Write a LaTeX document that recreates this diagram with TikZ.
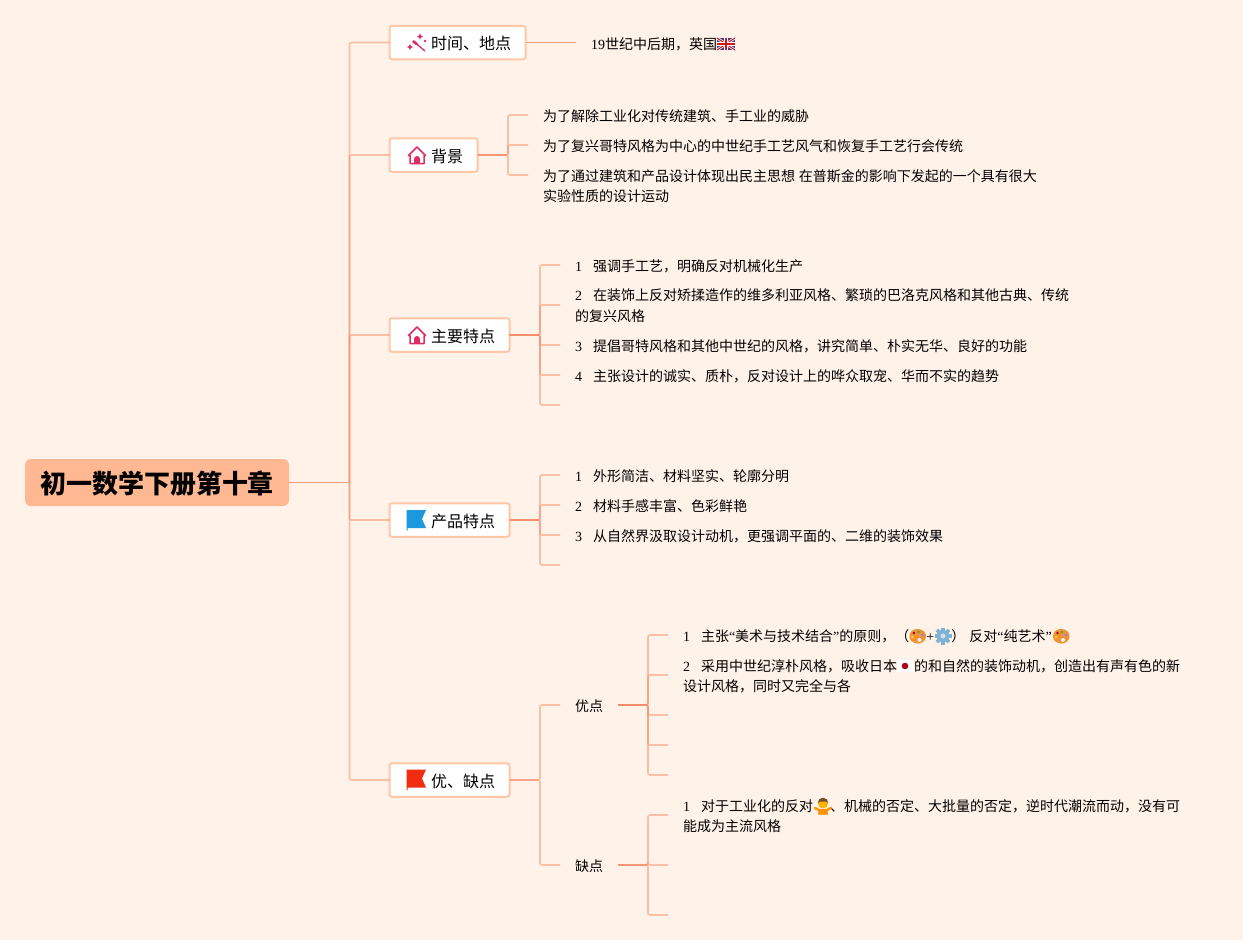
\documentclass[tikz,border=0pt]{standalone}
\usepackage{fontspec}
\setmainfont{Liberation Serif}
\newfontfamily\cjk{Noto Sans CJK SC}
\usepackage{xcolor}
\definecolor{pagebg}{HTML}{FFF2E8}
\definecolor{rootfill}{HTML}{FFB892}
\definecolor{topicline}{HTML}{FFC7A6}
\definecolor{linkcol}{HTML}{F88B68}
\definecolor{iconred}{HTML}{DE2C62}
\definecolor{gearblue}{HTML}{7FB2D2}
\definecolor{flagblue}{HTML}{1C98DD}
\definecolor{flagred}{HTML}{F22C10}
\tikzset{%
	root/.style    = {fill=rootfill, rounded corners=6pt, anchor=west, minimum height=47pt, outer sep=0pt, inner xsep=15pt, text height=24pt, text depth=2pt, font=\cjk\fontsize{26}{30}\bfseries\selectfont},
	topic/.style   = {draw=topicline, fill=white, line width=2pt, rounded corners=2.5pt, anchor=west, minimum height=33.5pt, outer sep=0pt, inner xsep=14.5pt, text height=15.5pt, text depth=1pt, font=\cjk\fontsize{16}{20}\selectfont},
	leaf/.style    = {anchor=west, inner xsep=15pt, inner ysep=0pt, outer sep=0pt, align=left, font=\cjk\fontsize{14}{20.5}\selectfont},
	oneline/.style = {leaf, text height=14pt, text depth=1pt},
	branch/.style  = {draw=linkcol, line width=1.6pt, opacity=.5, rounded corners=2pt},
	rootlink/.style= {draw=linkcol, line width=1pt, opacity=.85},
	iconwand/.pic = {
		\draw[iconred,line width=1.3pt] (-4,-2) -- (8,8);
		\draw[iconred,line width=2.6pt] (-4,-2) -- (0,1.3);
		\fill[iconred] (3,-9.5) -- (4,-7.5) -- (6,-6.5) -- (4,-5.5) -- (3,-3.5) -- (2,-5.5) -- (0,-6.5) -- (2,-7.5) -- cycle;
		\fill[iconred] (-7,1) -- (-6,3) -- (-4,4) -- (-6,5) -- (-7,7) -- (-8,5) -- (-10,4) -- (-8,3) -- cycle;
		\fill[iconred] (8,-2) circle (1.3pt);
	},
	iconhouse/.pic = {
		\draw[iconred,line width=1.5pt,line join=round,fill=white] (-8.5,0) -- (0,-8.5) -- (8.5,0) -- (7,0) -- (7,8) -- (-7,8) -- (-7,0) -- cycle;
		\fill[iconred] (-3,8) -- (-3,3.5) arc[start angle=180,end angle=0,radius=3pt] -- (3,8) -- cycle;
		\draw[iconred,line width=1.9pt] (-7,8) -- (7,8);
	},
	iconflag/.pic = {
		\fill[#1] (-10,-9.5) -- (9,-9.5) -- (5,-0.5) -- (9,8.5) -- (-9.5,8.5) -- (-9.5,11) -- (-10.3,11) -- (-10.3,-9.5) -- cycle;
	},
	iconpalette/.pic = {
		\fill[orange!70!brown!85!white] (0,-7) .. controls (6,-7) and (9,-3) .. (8.5,1) .. controls (8,5) and (4,8) .. (0,7.5) .. controls (-5,7) and (-8.5,4) .. (-8,0) .. controls (-8,-4) and (-5,-7) .. (0,-7) -- cycle;
		\fill[red!70!black] (-3.5,-3) circle (1.4pt);
		\fill[green!50!black!70] (1,-4) circle (1.4pt);
		\fill[blue!50] (5,-1) circle (1.4pt);
		\fill[yellow!80!orange] (-5,1) circle (1.4pt);
		\fill[pagebg] (2,4) circle (2pt);
	},
	icongear/.pic = {
		\foreach \a in {0,45,...,315} \fill[gearblue,rotate=\a] (-1.8,-8.5) rectangle (1.8,-4);
		\fill[gearblue] (0,0) circle (6.2pt);
		\fill[white!60!gearblue] (0,0) circle (2.5pt);
	},
	iconperson/.pic = {
		\fill[orange!90!yellow] (-5,8.5) -- (-4,3) -- (4,3) -- (5,8.5) -- cycle;
		\draw[orange!85!yellow,line width=2.4pt,line cap=round] (-8,2) -- (3,7.5) (8,2) -- (-3,7.5);
		\fill[orange!60!yellow] (0,-2.5) circle (5pt);
		\fill[brown!60!black] (-5.3,-3) arc[start angle=180,end angle=0,radius=5.3pt] -- (3,-4.5) -- (-3,-4.5) -- cycle;
	},
	iconuk/.pic = {
		\fill[blue!45!black!75] (-9,-6) rectangle (9,6);
		\draw[white,line width=2.6pt] (-9,-6) -- (9,6) (-9,6) -- (9,-6);
		\draw[red!75!black!90,line width=1pt] (-9,-6) -- (9,6) (-9,6) -- (9,-6);
		\draw[white,line width=4pt] (-9,0) -- (9,0) (0,-6) -- (0,6);
		\draw[red!80!black!90,line width=2.2pt] (-9,0) -- (9,0) (0,-6) -- (0,6);
	},
	iconjapan/.pic = {
		\fill[white] (-8,-6) rectangle (8,6);
		\fill[red!75!black!90!blue] (0,0) circle (3.3pt);
	},
}
\newcommand{\lat}[1]{{\rmfamily #1}}
\newcommand{\itemno}[1]{\lat{#1}\hspace{11pt}}
\newcommand{\emogap}{\hspace{17pt}}

\begin{document}
\begin{tikzpicture}[x=1pt,y=-1pt]
	\fill[pagebg] (0,0) rectangle (1243,940);
	
	% root and main topics
	\node[root] (root) at (25,482.5) {初一数学下册第十章};
	\node[topic] (place) at (389.5,42.5) {\hspace{27pt}时间、地点};
	\node[topic] (back) at (389.5,155) {\hspace{27pt}背景};
	\node[topic] (main) at (389.5,335) {\hspace{27pt}主要特点};
	\node[topic] (prod) at (389.5,520) {\hspace{27pt}产品特点};
	\node[topic] (good) at (389.5,780) {\hspace{27pt}优、缺点};
	
	\coordinate (trunk) at (349.5,482.5);
	\draw[rootlink] (root.east) -- (trunk);
	\foreach \t in {place,back,main,prod,good} \draw[branch] (trunk) |- (\t.west);
	
	% time and place
	\node[leaf,text height=15.5pt,text depth=1pt] (placea) at (576,42.5) {\lat{19}世纪中后期，英国\emogap};
	\draw[rootlink] (place.east) -- (placea.west);
	
	% background
	\coordinate (backj) at (508,155);
	\foreach \n/\y/\t in {backa/115/{为了解除工业化对传统建筑、手工业的威胁},backb/145/{为了复兴哥特风格为中心的中世纪手工艺风气和恢复手工艺行会传统}}
		\node[oneline] (\n) at (528,\y) {\t};
	\node[leaf,anchor=north west] (backc) at (528,169.5) {为了通过建筑和产品设计体现出民主思想\hspace{4pt}在普斯金的影响下发起的一个具有很大\\实验性质的设计运动};
	\coordinate (backce) at (528,175);
	\foreach \n in {backa.west,backb.west,backce} \draw[branch] (back.east) -- (backj) |- (\n);
	
	% main features
	\coordinate (mainj) at (540,335);
	\foreach \n/\y/\t in {maina/265/{\itemno{1}强调手工艺，明确反对机械化生产},mainc/345/{\itemno{3}提倡哥特风格和其他中世纪的风格，讲究简单、朴实无华、良好的功能},maind/375/{\itemno{4}主张设计的诚实、质朴，反对设计上的哗众取宠、华而不实的趋势}}
		\node[oneline] (\n) at (560,\y) {\t};
	\node[leaf,anchor=north west] (mainb) at (560,289) {\itemno{2}在装饰上反对矫揉造作的维多利亚风格、繁琐的巴洛克风格和其他古典、传统\\的复兴风格};
	\coordinate (mainbe) at (560,305);
	\coordinate (maine) at (560,405);
	\foreach \n in {maina.west,mainbe,mainc.west,maind.west,maine} \draw[branch] (main.east) -- (mainj) |- (\n);
	
	% product features
	\coordinate (prodj) at (540,520);
	\foreach \n/\y/\t in {proda/475/{\itemno{1}外形简洁、材料坚实、轮廓分明},prodb/505/{\itemno{2}材料手感丰富、色彩鲜艳},prodc/535/{\itemno{3}从自然界汲取设计动机，更强调平面的、二维的装饰效果}}
		\node[oneline] (\n) at (560,\y) {\t};
	\coordinate (prodd) at (560,565);
	\foreach \n in {proda.west,prodb.west,prodc.west,prodd} \draw[branch] (prod.east) -- (prodj) |- (\n);
	
	% merits and faults
	\coordinate (goodj) at (540,780);
	\node[oneline] (merit) at (560,705) {优点};
	\node[oneline] (fault) at (560,865) {缺点};
	\foreach \n in {merit,fault} \draw[branch] (good.east) -- (goodj) |- (\n.west);
	
	\coordinate (meritj) at (648,705);
	\node[oneline] (merita) at (668,635) {\itemno{1}主张\lat{“}美术与技术结合\lat{”}的原则，（\emogap\lat{+}\emogap）\hspace{4pt}反对\lat{“}纯艺术\lat{”}\emogap};
	\node[leaf,anchor=north west] (meritb) at (668,659.5) {\itemno{2}采用中世纪淳朴风格，吸收日本\emogap 的和自然的装饰动机，创造出有声有色的新\\设计风格，同时又完全与各};
	\coordinate (meritbe) at (668,675);
	\coordinate (meritc) at (668,715);
	\coordinate (meritd) at (668,745);
	\coordinate (merite) at (668,775);
	\foreach \n in {merita.west,meritbe,meritc,meritd,merite} \draw[branch] (merit.east) -- (meritj) |- (\n);
	
	\coordinate (faultj) at (648,865);
	\node[leaf,anchor=north west] (faulta) at (668,799.5) {\itemno{1}对于工业化的反对\emogap、机械的否定、大批量的否定，逆时代潮流而动，没有可\\能成为主流风格};
	\coordinate (faultae) at (668,815);
	\coordinate (faultb) at (668,865);
	\coordinate (faultc) at (668,915);
	\foreach \n in {faultae,faultb,faultc} \draw[branch] (fault.east) -- (faultj) |- (\n);
	
	% icons
	\pic at (417,43) {iconwand};
	\pic at (417,155.5) {iconhouse};
	\pic at (417,335.5) {iconhouse};
	\pic at (417,519.5) {iconflag=flagblue};
	\pic at (417,779) {iconflag=flagred};
	\pic at (726,44) {iconuk};
	\pic at (917.5,636) {iconpalette};
	\pic at (943,636) {icongear};
	\pic at (1061,636) {iconpalette};
	\pic at (905,666) {iconjapan};
	\pic at (823,806) {iconperson};
\end{tikzpicture}
\end{document}
